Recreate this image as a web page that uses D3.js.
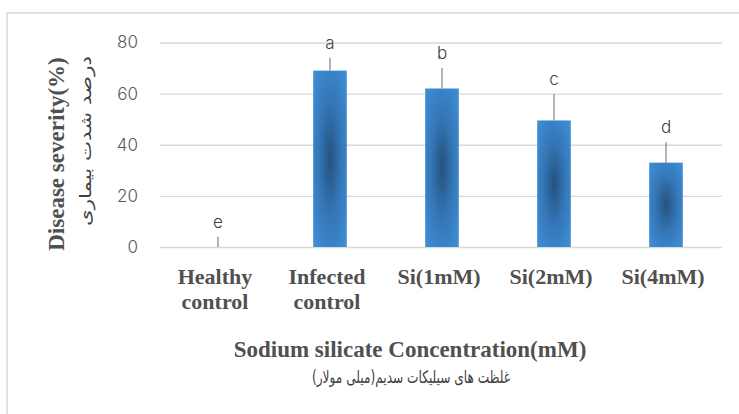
<!DOCTYPE html>
<html>
<head>
<meta charset="utf-8">
<script src="https://cdn.jsdelivr.net/npm/d3@7"></script>
<style>
	body { margin: 0; background: #fff; }
	svg { display: block; }
</style>
</head>
<body>
<div id="chart"></div>
<script>
// chart data
const categories = [["Healthy", "control"], ["Infected", "control"], ["Si(1mM)"], ["Si(2mM)"], ["Si(4mM)"]];
const severity = [0, 69, 62, 49.5, 33];
const errors = [4, 5, 8, 10.5, 8];
const letters = ["e", "a", "b", "c", "d"];
const yTicks = [0, 20, 40, 60, 80];

const width = 739,
	height = 414;

let svg = d3.select("#chart").append("svg").attr("width", width).attr("height", height);

// frame (only top and left edge are visible in the picture)
svg.append("line").attr("x1", 7).attr("x2", width).attr("y1", 13).attr("y2", 13).attr("stroke", "#d9d9d9").attr("stroke-width", 1.5);
svg.append("line").attr("x1", 7).attr("x2", 7).attr("y1", 13).attr("y2", height).attr("stroke", "#d9d9d9").attr("stroke-width", 1.5);

let x = d3
	.scaleBand()
	.domain(d3.range(categories.length))
	.range([162, 722])
	.paddingInner(0.7)
	.paddingOuter(0.35);

let y = d3.scaleLinear().domain([0, 80]).range([247, 42.5]);

// gradient for bars, dark in the middle
let grad = svg
	.append("defs")
	.append("radialGradient")
	.attr("id", "barFill")
	.attr("cx", "50%")
	.attr("cy", "50%")
	.attr("r", "75%");
grad.append("stop").attr("offset", "0%").attr("stop-color", "#25527e");
grad.append("stop").attr("offset", "45%").attr("stop-color", "#3577b8");
grad.append("stop").attr("offset", "100%").attr("stop-color", "#4193e0");

// grid
let yAxis = d3
	.axisLeft(y)
	.tickValues(yTicks)
	.tickSize(-(722 - 160))
	.tickPadding(22)
	.tickFormat(d3.format("d"));

let gy = svg.append("g").attr("transform", "translate(160,0)").call(yAxis);
gy.select(".domain").remove();
gy.selectAll(".tick line").attr("stroke", "#d9d9d9").attr("stroke-width", 1.3);
gy.selectAll(".tick text")
	.attr("fill", "#595959")
	.style("font-family", "Inter, 'Open Sans', sans-serif")
	.style("font-size", "17px")
	.style("font-weight", "300");

// bars
svg
	.selectAll("rect.bar")
	.data(severity)
	.enter()
	.append("rect")
	.attr("class", "bar")
	.attr("x", (d, i) => x(i))
	.attr("width", x.bandwidth())
	.attr("y", (d) => y(d))
	.attr("height", (d) => y(0) - y(d))
	.attr("fill", "url(#barFill)");

// error bars (upper half only)
svg
	.selectAll("line.err")
	.data(severity)
	.enter()
	.append("line")
	.attr("class", "err")
	.attr("x1", (d, i) => x(i) + x.bandwidth() / 2)
	.attr("x2", (d, i) => x(i) + x.bandwidth() / 2)
	.attr("y1", (d) => y(d))
	.attr("y2", (d, i) => y(d + errors[i]))
	.attr("stroke", "#8c8c8c")
	.attr("stroke-width", 1.3);

// significance letters
svg
	.selectAll("text.letter")
	.data(severity)
	.enter()
	.append("text")
	.attr("class", "letter")
	.attr("x", (d, i) => x(i) + x.bandwidth() / 2)
	.attr("y", (d, i) => y(d + errors[i]) - 9)
	.attr("text-anchor", "middle")
	.attr("fill", "#404040")
	.style("font-family", "Inter, 'Open Sans', sans-serif")
	.style("font-size", "17px")
	.style("font-weight", "300")
	.text((d, i) => letters[i]);

// category labels
let serif = "'Liberation Serif', 'DejaVu Serif', serif";
let catLabels = svg
	.selectAll("text.cat")
	.data(categories)
	.enter()
	.append("text")
	.attr("class", "cat")
	.attr("text-anchor", "middle")
	.attr("fill", "#505050")
	.style("font-family", serif)
	.style("font-size", "22px")
	.style("font-weight", "bold");
catLabels
	.selectAll("tspan")
	.data((d, i) => d.map((t) => ({ t: t, i: i })))
	.enter()
	.append("tspan")
	.attr("x", (d) => x(d.i) + x.bandwidth() / 2 - 3)
	.attr("y", (d, j) => 284 + j * 25)
	.text((d) => d.t);

// x axis title
svg
	.append("text")
	.attr("x", 410)
	.attr("y", 357)
	.attr("text-anchor", "middle")
	.attr("fill", "#505050")
	.style("font-family", serif)
	.style("font-size", "23px")
	.style("font-weight", "bold")
	.text("Sodium silicate Concentration(mM)");
svg
	.append("text")
	.attr("x", 411)
	.attr("y", 383)
	.attr("text-anchor", "middle")
	.attr("direction", "rtl")
	.attr("fill", "#404040")
	.attr("textLength", 198)
	.attr("lengthAdjust", "spacingAndGlyphs")
	.style("font-family", "'DejaVu Sans', sans-serif")
	.style("font-size", "17px")
	.text("غلظت های سیلیکات سدیم(میلی مولار)");

// y axis title
svg
	.append("text")
	.attr("transform", "translate(64,154) rotate(-90)")
	.attr("text-anchor", "middle")
	.attr("fill", "#505050")
	.style("font-family", serif)
	.style("font-size", "23px")
	.style("font-weight", "bold")
	.text("Disease severity(%)");
svg
	.append("text")
	.attr("transform", "translate(91,141) rotate(-90)")
	.attr("text-anchor", "middle")
	.attr("direction", "rtl")
	.attr("fill", "#404040")
	.attr("textLength", 170)
	.attr("lengthAdjust", "spacingAndGlyphs")
	.style("font-family", "'DejaVu Sans', sans-serif")
	.style("font-size", "16px")
	.text("درصد شدت بیماری");
</script>
</body>
</html>
